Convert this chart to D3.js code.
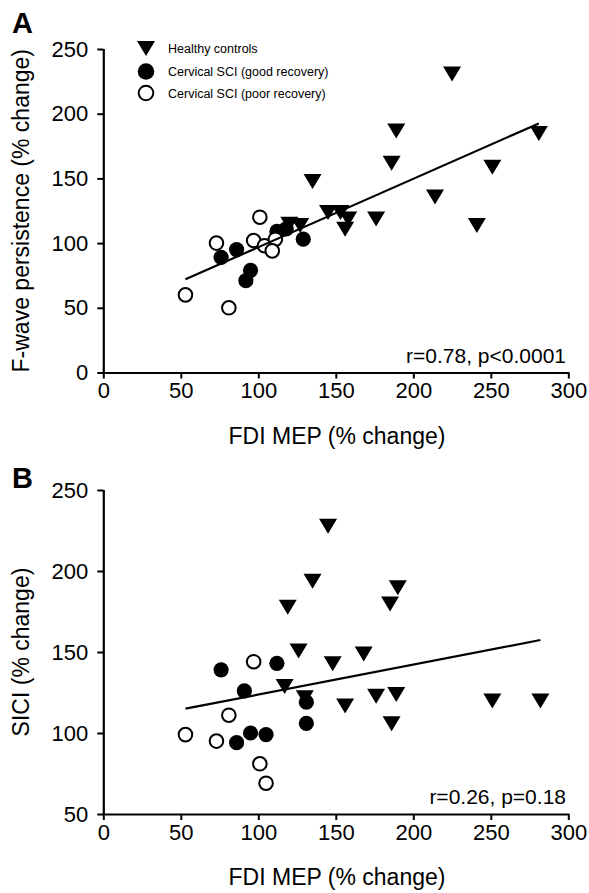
<!DOCTYPE html>
<html>
<head>
<meta charset="utf-8">
<script src="https://cdn.jsdelivr.net/npm/d3@7"></script>
<style>
  body { margin: 0; background: #fff; }
  svg { font-family: "Liberation Sans", Arial, sans-serif; }
</style>
</head>
<body>
<div id="chart"></div>
<script>
// values: [FDI MEP %, outcome %]
const A_HEALTHY = [[120,115],[127,114],[135,148],[145,124],[153,124],[156,111],[158,119],[176,119],
  [186,162],[189,187],[214,136],[225,231],[241,114],[251,159],[281,185]];
const A_GOOD = [[76,89],[86,95],[92,71],[95,79],[112,109],[118,111],[129,103]];
const A_POOR = [[53,60],[81,50],[73,100],[101,120],[97,102],[104,98],[111,103],[109,94]];
const A_FIT = [[53,72],[281,192.5]];

const B_HEALTHY = [[135,194],[119,178],[126,151],[148,143],[117,129],[130,122],[156,117],[145,228],
  [190,190],[185,180],[168,149],[176,123],[189,124],[186,106],[251,120],[282,120]];
const B_GOOD = [[76,139],[112,143],[91,126],[131,119],[131,106],[95,100],[105,99],[86,94]];
const B_POOR = [[97,144],[81,111],[53,99],[73,95],[101,81],[105,69]];
const B_FIT = [[53,115],[282,157.4]];

const X_TICKS = [0, 50, 100, 150, 200, 250, 300];
const A_Y_TICKS = [0, 50, 100, 150, 200, 250];
const B_Y_TICKS = [50, 100, 150, 200, 250];

const LEGEND = ["Healthy controls", "Cervical SCI (good recovery)", "Cervical SCI (poor recovery)"];

var width = 589,
    height = 893;

var svg = d3.select("#chart").append("svg")
  .attr("width", width)
  .attr("height", height);

var triPath = "M-9,-7L9,-7L0,8Z";

function drawPanel(cfg) {
  var x = d3.scaleLinear().domain([0, 300]).range([103.3, 568.3]);
  var y = d3.scaleLinear().domain(cfg.yDomain).range(cfg.yRange);
  var g = svg.append("g");

  // axes
  var xAxis = g.append("g")
    .attr("transform", "translate(0," + cfg.yRange[0] + ")")
    .call(d3.axisBottom(x).tickValues(X_TICKS).tickSize(6).tickPadding(4).tickFormat(d3.format("d")));
  var yAxis = g.append("g")
    .attr("transform", "translate(103.3,0)")
    .call(d3.axisLeft(y).tickValues(cfg.yTicks).tickSize(6).tickPadding(9).tickFormat(d3.format("d")));
  [xAxis, yAxis].forEach(function(a) {
    a.select(".domain").attr("stroke", "#000").attr("stroke-width", 2.2);
    a.selectAll(".tick line").attr("stroke", "#000").attr("stroke-width", 2);
    a.selectAll(".tick text").attr("fill", "#000")
      .style("font-size", "22px").style("font-family", "'Liberation Sans', Arial, sans-serif");
  });
  // clean domain ends (no outer ticks)
  xAxis.select(".domain").attr("d", "M103.3,0.5H569.3");
  yAxis.select(".domain").attr("d", "M0.5," + (cfg.yRange[0] + 1) + "V" + cfg.yRange[1]);

  // healthy controls
  g.selectAll("path.healthy")
    .data(cfg.healthy)
    .join("path")
    .attr("class", "healthy")
    .attr("d", triPath)
    .attr("transform", d => "translate(" + x(d[0]) + "," + y(d[1]) + ")")
    .attr("fill", "#000");

  // good recovery
  g.selectAll("circle.good")
    .data(cfg.good)
    .join("circle")
    .attr("class", "good")
    .attr("cx", d => x(d[0]))
    .attr("cy", d => y(d[1]))
    .attr("r", 7.6)
    .attr("fill", "#000");

  // poor recovery
  g.selectAll("circle.poor")
    .data(cfg.poor)
    .join("circle")
    .attr("class", "poor")
    .attr("cx", d => x(d[0]))
    .attr("cy", d => y(d[1]))
    .attr("r", 6.8)
    .attr("fill", "#fff")
    .attr("stroke", "#000")
    .attr("stroke-width", 2);

  // regression line
  g.append("path")
    .datum(cfg.fit)
    .attr("d", d3.line().x(d => x(d[0])).y(d => y(d[1])))
    .attr("stroke", "#000")
    .attr("stroke-width", 2.2)
    .attr("fill", "none");

  // stats
  g.append("text")
    .attr("x", 566)
    .attr("y", cfg.yRange[0] - 10)
    .attr("text-anchor", "end")
    .style("font-size", "21px")
    .text(cfg.stat);

  // axis titles
  g.append("text")
    .attr("x", 337)
    .attr("y", cfg.yRange[0] + 71)
    .attr("text-anchor", "middle")
    .style("font-size", "23px")
    .text("FDI MEP (% change)");
  g.append("text")
    .attr("transform", "translate(29," + ((cfg.yRange[0] + cfg.yRange[1]) / 2) + ")rotate(-90)")
    .attr("text-anchor", "middle")
    .style("font-size", "23px")
    .text(cfg.yTitle);

  // panel letter
  g.append("text")
    .attr("x", 12)
    .attr("y", cfg.letterY)
    .style("font-size", "29px")
    .style("font-weight", "bold")
    .text(cfg.letter);
}

drawPanel({
  yDomain: [0, 250], yRange: [372.5, 49], yTicks: A_Y_TICKS,
  healthy: A_HEALTHY, good: A_GOOD, poor: A_POOR, fit: A_FIT,
  stat: "r=0.78, p<0.0001", yTitle: "F-wave persistence (% change)",
  letter: "A", letterY: 33
});
drawPanel({
  yDomain: [50, 250], yRange: [814, 490], yTicks: B_Y_TICKS,
  healthy: B_HEALTHY, good: B_GOOD, poor: B_POOR, fit: B_FIT,
  stat: "r=0.26, p=0.18", yTitle: "SICI (% change)",
  letter: "B", letterY: 488
});

// legend
var legend = svg.append("g")
  .selectAll("g")
  .data(LEGEND)
  .join("g")
  .attr("transform", (d, i) => "translate(146," + [48, 71.5, 93][i] + ")");

legend.each(function(d, i) {
  var el = d3.select(this);
  if (i === 0) {
    el.append("path").attr("d", triPath).attr("fill", "#000");
  } else if (i === 1) {
    el.append("circle").attr("r", 8.3).attr("fill", "#000");
  } else {
    el.append("circle").attr("r", 7.3).attr("fill", "#fff").attr("stroke", "#000").attr("stroke-width", 2);
  }
});

legend.append("text")
  .attr("x", 22)
  .attr("y", 4.5)
  .style("font-size", "12.5px")
  .text(d => d);
</script>
</body>
</html>
